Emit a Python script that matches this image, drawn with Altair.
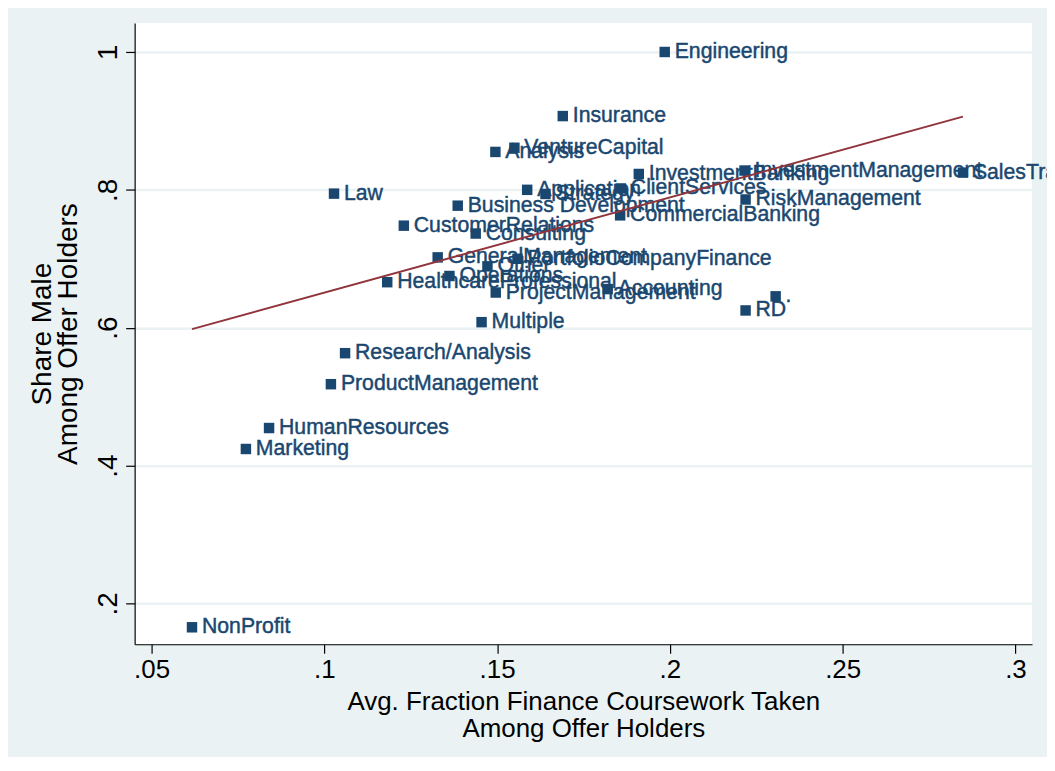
import altair as alt
import pandas as pd

categories = [
    "Engineering", "Insurance", "VentureCapital", "Analysis", "InvestmentBanking",
    "InvestmentManagement", "SalesTrading", "Law", "Application", "Strategy",
    "ClientServices", "Business Development", "RiskManagement", "CommercialBanking",
    "CustomerRelations", "Consulting", "PortfolioCompanyFinance", "GeneralManagement",
    "Operations", "Other", "HealthcareProfessional", "Accounting", "ProjectManagement",
    "Multiple", "RD", ".", "Research/Analysis", "ProductManagement", "HumanResources",
    "Marketing", "NonProfit",
]
coursework = [
    0.1985, 0.1690, 0.1550, 0.1495, 0.1910,
    0.2216, 0.2848, 0.1028, 0.1587, 0.1640,
    0.1858, 0.1386, 0.2219, 0.1856,
    0.1230, 0.1438, 0.1559, 0.1328,
    0.1362, 0.1472, 0.1182, 0.1820, 0.1496,
    0.1455, 0.2219, 0.2306, 0.1060, 0.1019, 0.0840,
    0.0773, 0.0617,
]
share_male = [
    1.000, 0.907, 0.861, 0.855, 0.823,
    0.828, 0.825, 0.7945, 0.800, 0.794,
    0.802, 0.777, 0.786, 0.763,
    0.748, 0.7366, 0.700, 0.702,
    0.675, 0.689, 0.666, 0.656, 0.651,
    0.608, 0.625, 0.6455, 0.563, 0.518, 0.4544,
    0.424, 0.1653,
]

x_ticks = [0.05, 0.1, 0.15, 0.2, 0.25, 0.3]
y_ticks = [0.2, 0.4, 0.6, 0.8, 1.0]

# fitted line
fit_intercept = 0.5126
fit_slope = 1.382

df = pd.DataFrame({"job": categories, "fin": coursework, "male": share_male})
fx = [min(coursework), max(coursework)]
fit_df = pd.DataFrame({"fin": fx, "male": [fit_intercept + fit_slope * v for v in fx]})

NAVY = "#1a476f"
BG = "#EAF2F3"
FONT = "Liberation Sans"

xs = alt.Scale(domain=[0.0451, 0.3048], nice=False, zero=False)
ys = alt.Scale(domain=[0.1407, 1.042], nice=False, zero=False)

x_axis = alt.Axis(
    values=x_ticks,
    labelExpr="slice(format(datum.value, '.2~f'), 1)",
    title=["Avg. Fraction Finance Coursework Taken", "Among Offer Holders"],
    grid=False, tickSize=9, labelPadding=3, titlePadding=6,
    labelFontSize=26, titleFontSize=26, titleLineHeight=28,
)
y_axis = alt.Axis(
    values=y_ticks,
    labelExpr="datum.value == 1 ? '1' : slice(format(datum.value, '.2~f'), 1)",
    title=["Share Male", "Among Offer Holders"],
    grid=True, gridColor=BG, gridWidth=2.5,
    labelAngle=270, labelAlign="center", labelBaseline="bottom",
    tickSize=9, labelPadding=3, titlePadding=12,
    labelFontSize=28, titleFontSize=28, titleLineHeight=26,
)

points = alt.Chart(df).mark_square(size=110, color=NAVY, opacity=1, filled=True).encode(
    x=alt.X("fin:Q", scale=xs, axis=x_axis),
    y=alt.Y("male:Q", scale=ys, axis=y_axis),
)

labels = alt.Chart(df).mark_text(
    align="left", baseline="middle", dx=10, fontSize=21.3, font=FONT,
    color=NAVY, fill=NAVY, stroke=NAVY, strokeWidth=0.45,
).encode(
    x=alt.X("fin:Q", scale=xs),
    y=alt.Y("male:Q", scale=ys),
    text="job:N",
)

fit = alt.Chart(fit_df).mark_line(color="#90353b", strokeWidth=2).encode(
    x=alt.X("fin:Q", scale=xs),
    y=alt.Y("male:Q", scale=ys),
)

chart = alt.layer(points, labels, fit).properties(
    width=900, height=623,
    autosize=alt.AutoSizeParams(type="none"),
    padding={"left": 127, "top": 14, "right": 15, "bottom": 112},
    background=BG,
).configure_view(
    fill="white", stroke=None
).configure_axis(
    labelFont=FONT, titleFont=FONT,
    labelColor="black", titleColor="black", titleFontWeight="normal",
    domainColor="black", tickColor="black", domainWidth=1.2, tickWidth=1.2,
)

chart.save("out.html", embed_options={"renderer": "svg", "actions": False})
